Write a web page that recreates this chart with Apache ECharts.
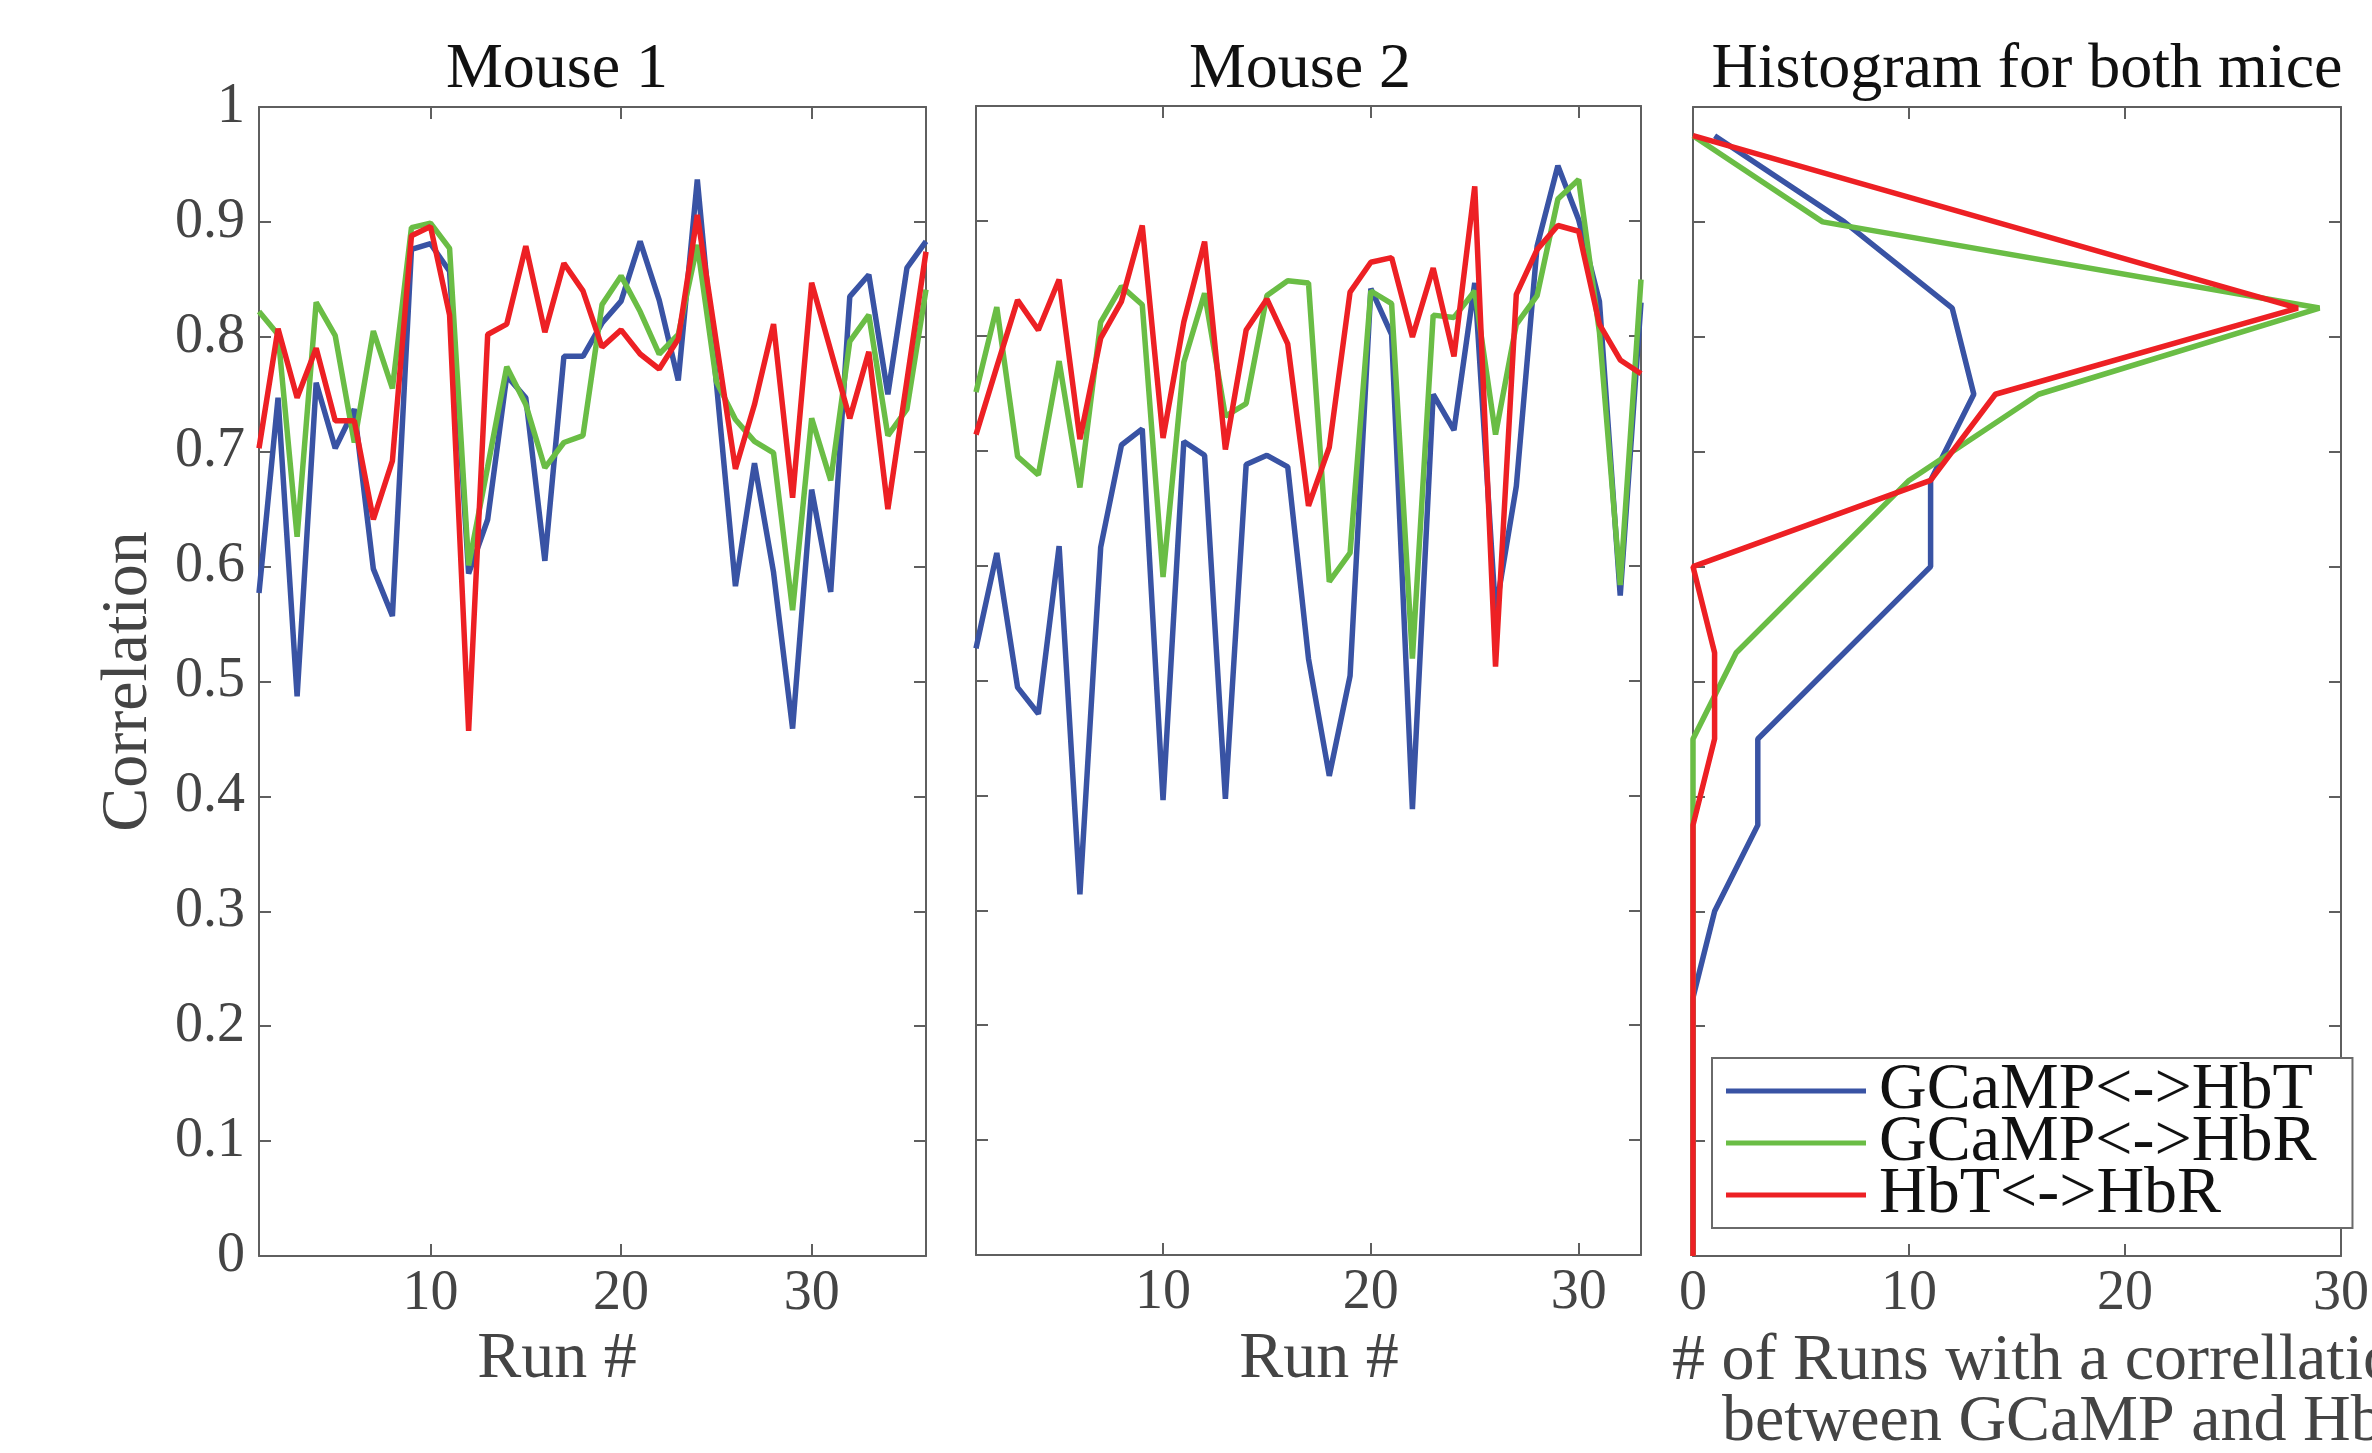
<!DOCTYPE html>
<html>
<head>
<meta charset="utf-8">
<title>GCaMP / Hb correlation per run</title>
<script src="https://cdn.jsdelivr.net/npm/echarts@6.0.0/dist/echarts.min.js"></script>
<style>
    html, body { margin: 0; padding: 0; background: #fff; }
    #chart { width: 2372px; height: 1453px; }
</style>
</head>
<body>
<div id="chart"></div>
<script>
var seriesNames = ['GCaMP<->HbT', 'GCaMP<->HbR', 'HbT<->HbR'];
var colors = ['#3953A4', '#6ABD45', '#ED2024'];

// Mouse 1, runs 1..36
var mouse1HbT = [0.577, 0.747, 0.487, 0.760, 0.703, 0.737, 0.598, 0.557, 0.876, 0.881, 0.857, 0.594,
    0.641, 0.766, 0.747, 0.605, 0.783, 0.783, 0.812, 0.831, 0.883, 0.832, 0.762, 0.937,
    0.760, 0.583, 0.690, 0.595, 0.459, 0.667, 0.578, 0.835, 0.854, 0.750, 0.860, 0.883];
var mouse1HbR = [0.822, 0.802, 0.626, 0.830, 0.801, 0.708, 0.805, 0.755, 0.895, 0.899, 0.877, 0.601,
    0.687, 0.774, 0.741, 0.686, 0.708, 0.714, 0.828, 0.853, 0.822, 0.785, 0.802, 0.880,
    0.761, 0.728, 0.709, 0.699, 0.562, 0.729, 0.675, 0.796, 0.819, 0.714, 0.737, 0.841];
var mouse1HbTHbR = [0.703, 0.807, 0.747, 0.790, 0.727, 0.727, 0.641, 0.692, 0.888, 0.896, 0.819, 0.457,
    0.802, 0.811, 0.879, 0.804, 0.864, 0.840, 0.791, 0.806, 0.785, 0.772, 0.798, 0.906,
    0.795, 0.685, 0.741, 0.811, 0.660, 0.847, 0.788, 0.729, 0.787, 0.650, 0.762, 0.874];

// Mouse 2, runs 1..33
var mouse2HbT = [0.528, 0.611, 0.494, 0.471, 0.617, 0.314, 0.616, 0.705, 0.719, 0.396, 0.708,
    0.696, 0.397, 0.688, 0.696, 0.686, 0.519, 0.417, 0.504, 0.841, 0.801, 0.388,
    0.749, 0.718, 0.846, 0.560, 0.669, 0.878, 0.948, 0.901, 0.830, 0.574, 0.829];
var mouse2HbR = [0.751, 0.825, 0.695, 0.679, 0.778, 0.668, 0.812, 0.843, 0.827, 0.590, 0.777,
    0.837, 0.730, 0.741, 0.835, 0.848, 0.846, 0.586, 0.611, 0.839, 0.828, 0.519,
    0.818, 0.816, 0.839, 0.714, 0.810, 0.835, 0.919, 0.936, 0.803, 0.583, 0.849];
var mouse2HbTHbR = [0.714, 0.773, 0.831, 0.805, 0.849, 0.710, 0.798, 0.830, 0.896, 0.711, 0.812,
    0.882, 0.701, 0.805, 0.832, 0.793, 0.652, 0.703, 0.838, 0.864, 0.868, 0.799,
    0.859, 0.782, 0.930, 0.512, 0.836, 0.875, 0.896, 0.891, 0.810, 0.779, 0.767];

// histogram for both mice: bin centres (correlation) and number of runs
var histBins = [0.975, 0.9, 0.825, 0.75, 0.675, 0.6, 0.525, 0.45, 0.375, 0.3, 0.225, 0.15, 0.075, 0];
var histHbT = [1, 7, 12, 13, 11, 11, 7, 3, 3, 1, 0, 0, 0, 0];
var histHbR = [0, 6, 29, 16, 10, 6, 2, 0, 0, 0, 0, 0, 0, 0];
var histHbTHbR = [0, 14, 28, 14, 11, 0, 1, 1, 0, 0, 0, 0, 0, 0];

var runTicks = [10, 20, 30];

var serif = 'Liberation Serif';
var axisColor = '#5f5f5f';
var labelColor = '#444';

function runData(values) {
    return values.map(function (v, i) {
        return [i + 1, v];
    });
}

function histData(counts) {
    return counts.map(function (c, i) {
        return [c, histBins[i]];
    });
}

var frameLine = {show: true, onZero: false, lineStyle: {color: axisColor, width: 2}};

function tickStyle(values) {
    var t = {show: true, inside: true, length: 12, lineStyle: {color: axisColor, width: 2}};
    if (values) t.customValues = values;
    return t;
}

// x axis of a run plot (bottom one carries the labels, top one only closes the box)
function runAxis(grid, maxRun, pos) {
    return {
        type: 'value', gridIndex: grid, position: pos,
        min: 1, max: maxRun,
        axisLine: frameLine,
        axisTick: tickStyle(runTicks),
        axisLabel: {
            show: pos === 'bottom', customValues: runTicks, margin: 10,
            fontFamily: serif, fontSize: 56, color: labelColor
        },
        splitLine: {show: false}
    };
}

function countAxis(grid, pos) {
    return {
        type: 'value', gridIndex: grid, position: pos,
        min: 0, max: 30, interval: 10,
        axisLine: frameLine,
        axisTick: tickStyle(),
        axisLabel: {
            show: pos === 'bottom', margin: 10,
            fontFamily: serif, fontSize: 56, color: labelColor
        },
        splitLine: {show: false}
    };
}

function corrAxis(grid, pos, withLabels) {
    return {
        type: 'value', gridIndex: grid, position: pos,
        min: 0, max: 1, interval: 0.1,
        axisLine: frameLine,
        axisTick: tickStyle(),
        axisLabel: {
            show: withLabels, margin: 14,
            fontFamily: serif, fontSize: 56, color: labelColor
        },
        splitLine: {show: false}
    };
}

function lineSeries(name, idx, axisIdx, data) {
    return {
        name: name, type: 'line',
        xAxisIndex: axisIdx, yAxisIndex: axisIdx,
        symbol: 'none',
        lineStyle: {color: colors[idx], width: 5.5},
        itemStyle: {color: colors[idx]},
        data: data
    };
}

var leftY = corrAxis(0, 'left', true);
leftY.name = 'Correlation';
leftY.nameLocation = 'middle';
leftY.nameGap = 97;
leftY.nameTextStyle = {fontFamily: serif, fontSize: 66, color: labelColor};

var myChart = echarts.init(document.getElementById('chart'));
var option = {
    animation: false,
    backgroundColor: '#fff',
    grid: [
        {left: 259, top: 107, width: 667, height: 1149},
        {left: 976, top: 106, width: 665, height: 1149},
        {left: 1693, top: 107, width: 665, height: 1149}
    ],
    xAxis: [
        runAxis(0, 36, 'bottom'), runAxis(0, 36, 'top'),
        runAxis(1, 33, 'bottom'), runAxis(1, 33, 'top'),
        countAxis(2, 'bottom'), countAxis(2, 'top')
    ],
    yAxis: [
        leftY, corrAxis(0, 'right', false),
        corrAxis(1, 'left', false), corrAxis(1, 'right', false),
        corrAxis(2, 'left', false), corrAxis(2, 'right', false)
    ],
    legend: {
        orient: 'vertical',
        left: 1712, top: 1058,
        padding: [0, 36, 0, 14],
        itemGap: -14,
        icon: 'rect',
        itemWidth: 140,
        itemHeight: 5,
        selectedMode: false,
        backgroundColor: '#fff',
        borderColor: '#6a6a6a',
        borderWidth: 2,
        data: seriesNames,
        textStyle: {fontFamily: serif, fontSize: 66, color: '#111', padding: [0, 0, 0, 8]}
    },
    graphic: [
        // panel titles
        {type: 'text', x: 557, y: 70, style: {text: 'Mouse 1', font: '64px "Liberation Serif"', fill: '#111', textAlign: 'center', textVerticalAlign: 'middle'}},
        {type: 'text', x: 1300, y: 70, style: {text: 'Mouse 2', font: '64px "Liberation Serif"', fill: '#111', textAlign: 'center', textVerticalAlign: 'middle'}},
        {type: 'text', x: 2027, y: 70, style: {text: 'Histogram for both mice', font: '64px "Liberation Serif"', fill: '#111', textAlign: 'center', textVerticalAlign: 'middle'}},
        // x axis titles
        {type: 'text', x: 557, y: 1360, style: {text: 'Run #', font: '66px "Liberation Serif"', fill: labelColor, textAlign: 'center', textVerticalAlign: 'middle'}},
        {type: 'text', x: 1319, y: 1360, style: {text: 'Run #', font: '66px "Liberation Serif"', fill: labelColor, textAlign: 'center', textVerticalAlign: 'middle'}},
        {type: 'text', x: 1672, y: 1362, style: {text: '# of Runs with a correllation', font: '66px "Liberation Serif"', fill: labelColor, textAlign: 'left', textVerticalAlign: 'middle'}},
        {type: 'text', x: 1722, y: 1423, style: {text: 'between GCaMP and HbR', font: '66px "Liberation Serif"', fill: labelColor, textAlign: 'left', textVerticalAlign: 'middle'}}
    ],
    series: [
        lineSeries(seriesNames[0], 0, 0, runData(mouse1HbT)),
        lineSeries(seriesNames[1], 1, 0, runData(mouse1HbR)),
        lineSeries(seriesNames[2], 2, 0, runData(mouse1HbTHbR)),
        lineSeries(seriesNames[0], 0, 2, runData(mouse2HbT)),
        lineSeries(seriesNames[1], 1, 2, runData(mouse2HbR)),
        lineSeries(seriesNames[2], 2, 2, runData(mouse2HbTHbR)),
        lineSeries(seriesNames[0], 0, 4, histData(histHbT)),
        lineSeries(seriesNames[1], 1, 4, histData(histHbR)),
        lineSeries(seriesNames[2], 2, 4, histData(histHbTHbR))
    ]
};
myChart.setOption(option);
</script>
</body>
</html>
